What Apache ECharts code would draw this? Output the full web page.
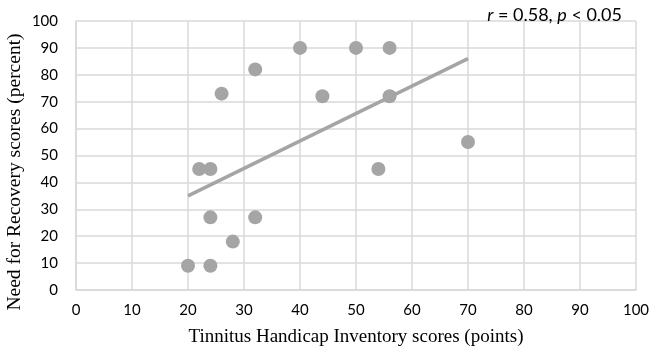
<!DOCTYPE html>
<html>
<head>
<meta charset="utf-8">
<script src="https://cdn.jsdelivr.net/npm/echarts@6/dist/echarts.min.js"></script>
<style>
  html, body { margin: 0; padding: 0; background: #fff; }
  #chart { width: 650px; height: 355px; }
</style>
</head>
<body>
<div id="chart"></div>
<script>
// THI scores (x) and need for recovery scores (y)
const thiScores = [20, 24, 28, 24, 32, 22, 24, 26, 32, 40, 44, 50, 56, 56, 54, 70];
const nfrScores = [9, 9, 18, 27, 27, 45, 45, 73, 82, 90, 72, 90, 90, 72, 45, 55];

// trend line end points
const trendX = [20, 70];
const trendY = [35, 86];

const xTicks = [0, 10, 20, 30, 40, 50, 60, 70, 80, 90, 100];
const yTicks = [0, 10, 20, 30, 40, 50, 60, 70, 80, 90, 100];

const chart = echarts.init(document.getElementById("chart"));

const points = thiScores.map((x, i) => [x, nfrScores[i]]);
const trend = trendX.map((x, i) => [x, trendY[i]]);

const tickFont = "Lato, 'Open Sans', sans-serif";
const titleFont = "'Liberation Serif', 'DejaVu Serif', serif";

chart.setOption({
    animation: false,
    grid: { left: 76, right: 14, top: 21, bottom: 65, outerBoundsMode: "none", containLabel: false },
    title: {
        text: "{i|r}{n| = 0.58, }{i|p}{n| < 0.05}",
        right: 23,
        top: 1,
        textStyle: {
            fontFamily: tickFont,
            fontSize: 18,
            fontWeight: "normal",
            color: "#000",
            rich: {
                i: { fontFamily: tickFont, fontSize: 18, fontStyle: "italic", color: "#000" },
                n: { fontFamily: tickFont, fontSize: 18, color: "#000" }
            }
        }
    },
    graphic: [
        {
            type: "text",
            x: 15,
            y: 172,
            rotation: Math.PI / 2,
            style: {
                text: "Need for Recovery scores (percent)",
                fontFamily: titleFont,
                fontSize: 19.5,
                fill: "#000",
                align: "center",
                verticalAlign: "middle"
            }
        }
    ],
    xAxis: {
        type: "value",
        min: xTicks[0],
        max: xTicks[xTicks.length - 1],
        interval: 10,
        name: "Tinnitus Handicap Inventory scores (points)",
        nameLocation: "middle",
        nameGap: 38,
        nameTextStyle: { fontFamily: titleFont, fontSize: 19, color: "#000" },
        axisLine: { lineStyle: { color: "#d9d9d9", width: 1.5 } },
        axisTick: { show: false },
        axisLabel: { fontFamily: tickFont, fontSize: 15, color: "#000", margin: 13 },
        splitLine: { lineStyle: { color: "#d9d9d9", width: 1.5 } }
    },
    yAxis: {
        type: "value",
        min: yTicks[0],
        max: yTicks[yTicks.length - 1],
        interval: 10,
        axisLine: { show: true, lineStyle: { color: "#d9d9d9", width: 1.5 } },
        axisTick: { show: false },
        axisLabel: { fontFamily: tickFont, fontSize: 15, color: "#000", margin: 18 },
        splitLine: { lineStyle: { color: "#d9d9d9", width: 1.5 } }
    },
    series: [
        {
            type: "line",
            data: trend,
            symbol: "none",
            lineStyle: { color: "#a5a5a5", width: 3.5 },
            z: 2
        },
        {
            type: "scatter",
            data: points,
            symbolSize: 14,
            itemStyle: { color: "#a5a5a5", opacity: 1 },
            z: 3
        }
    ]
});
</script>
</body>
</html>
